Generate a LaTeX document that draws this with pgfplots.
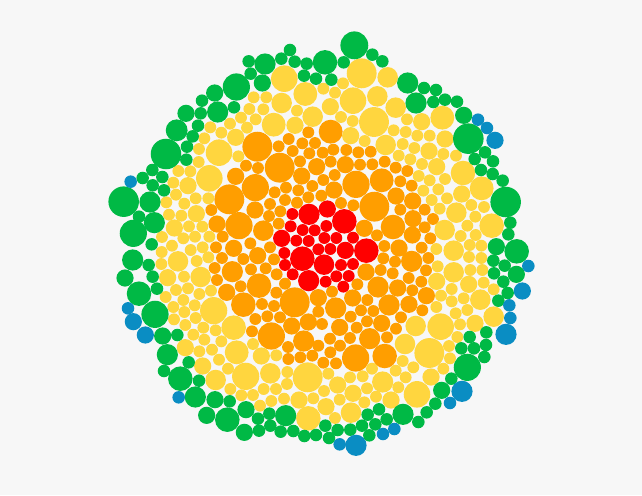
\documentclass[border=0pt]{standalone}
\usepackage{pgfplots}
\pgfplotsset{compat=1.18}
\definecolor{bg}{HTML}{F7F7F7}
\definecolor{cred}{HTML}{FF0000}
\definecolor{corange}{HTML}{FF9E00}
\definecolor{cyellow}{HTML}{FFD63F}
\definecolor{cgreen}{HTML}{00B945}
\definecolor{cblue}{HTML}{0A8DC3}
\pgfplotsset{bub/.style={scatter,only marks,mark=*,
  scatter/use mapped color={draw opacity=0,fill=#1,line width=0pt},
  visualization depends on={(\thisrow{r}+0.8)/3 \as \rad},
  scatter/@pre marker code/.append style={/tikz/mark size=\rad}}}
\begin{document}
\begin{tikzpicture}
\begin{axis}[width=642pt,height=495pt,scale only axis,
  xmin=0,xmax=1926,ymin=0,ymax=1485,y dir=reverse,
  ticks=none,axis line style={draw=none},
  axis background/.style={fill=bg}]
\addplot[bub=cred] table {
x y r
927 643 31
982 627 25
1033 664 36
877 642 17
872 679 17
908 690 17
944 691 17
979 678 17
845 715 25
889 722 17
926 723 17
973 714 17
1009 714 17
1059 713 17
853 759 17
907 776 36
955 748 17
991 747 17
1036 751 25
1099 752 36
855 795 17
972 794 30
1023 795 17
1059 792 17
878 823 17
926 842 31
977 845 17
1009 829 17
1046 828 17
1030 860 17
};
\addplot[bub=corange] table {
x y r
772 440 44
836 439 17
866 417 17
925 397 17
907 430 17
878 453 17
945 429 17
928 460 17
738 497 17
774 504 17
839 503 44
900 484 17
950 500 25
707 529 25
905 528 25
766 563 40
858 563 17
937 558 17
895 571 17
688 598 44
824 577 17
855 600 17
925 592 17
810 612 17
891 608 17
765 630 25
634 630 17
841 634 17
807 648 17
651 672 25
717 677 40
836 671 17
790 692 30
668 710 17
992 395 35
1000 449 17
968 458 17
1039 450 17
1075 457 17
1112 455 17
992 485 17
1036 494 25
1080 494 17
1117 493 17
1154 485 17
1187 503 17
1222 513 17
1004 525 17
970 540 17
1068 553 40
1145 541 35
1201 544 17
1235 557 17
1002 570 25
964 587 17
1188 588 25
1023 609 17
1060 616 17
1123 620 44
1238 603 25
1274 629 17
1201 629 17
1299 657 17
1239 656 25
1093 685 25
1179 681 36
1274 682 17
1131 706 17
1237 705 25
1291 715 17
648 742 17
701 745 25
751 730 17
810 742 17
666 774 17
773 767 25
730 777 17
822 778 17
644 804 17
697 815 31
753 808 17
797 805 17
830 823 17
651 840 17
777 857 36
855 851 17
680 877 25
722 859 17
829 878 17
730 914 36
786 912 17
822 918 17
884 907 44
955 893 25
766 957 17
802 949 17
840 952 17
875 978 25
925 966 25
756 994 17
814 1008 40
911 1023 31
864 1041 17
955 935 17
966 972 17
955 1037 17
865 1077 17
901 1072 17
937 1067 17
1153 738 17
1197 744 25
1265 743 17
1150 775 17
1235 784 31
1185 785 17
1285 774 17
1098 816 25
1142 810 17
1178 820 17
1278 811 17
1226 834 17
1264 845 17
1072 853 17
1134 861 31
1193 864 25
1237 871 17
996 875 17
1279 887 25
1058 894 25
1102 900 17
1167 915 31
1227 913 25
1007 924 31
1083 931 17
1120 933 17
1267 931 17
1052 950 17
1203 952 17
1101 964 17
1145 970 25
1019 982 25
1070 983 17
1188 986 17
1109 1016 31
990 1016 17
1050 1014 17
1161 1012 17
1020 1037 17
991 1057 17
1067 1074 40
1154 1068 36
970 1088 17
1008 1090 17
};
\addplot[bub=cyellow] table {
x y r
853 236 39
916 282 35
845 309 30
761 292 17
799 292 17
748 327 17
790 328 17
891 332 17
938 350 30
723 353 17
767 358 17
821 374 35
885 376 25
631 382 17
690 371 17
741 383 17
664 398 17
613 415 17
707 412 25
597 447 17
657 458 39
715 469 17
596 486 17
535 513 17
571 514 17
628 535 39
520 548 17
564 557 25
528 584 17
587 595 17
625 595 17
499 607 17
553 611 17
507 644 17
544 647 17
589 641 25
523 684 25
567 679 17
607 680 17
486 711 17
550 715 17
585 710 17
628 710 17
1085 220 44
1163 232 30
1029 250 17
970 266 17
1005 278 17
1059 302 39
1132 289 30
991 320 25
1187 323 30
1023 351 17
1058 363 17
1122 366 44
1221 358 17
1265 365 25
1327 353 35
1181 391 17
1217 396 17
1252 407 17
1289 407 17
1052 407 25
1094 423 17
1157 435 30
1208 432 17
1335 417 25
1243 444 17
1287 453 25
1330 462 17
1368 467 17
1196 467 17
1231 478 17
1266 492 17
1310 500 25
1389 519 36
1256 528 17
1289 541 17
1335 537 17
1445 565 35
1270 572 17
1315 568 17
1385 582 25
1295 600 17
1341 595 17
1414 615 17
1452 621 17
1319 626 17
1369 638 30
1426 650 17
1475 677 36
1334 690 30
1402 677 17
1382 708 17
1427 705 17
485 756 17
516 737 17
572 750 17
608 742 17
625 772 17
534 784 30
590 783 17
484 792 17
503 833 25
552 830 17
602 831 30
528 870 17
564 865 17
633 872 17
598 882 17
497 891 17
550 900 17
584 916 17
520 921 17
641 932 40
553 936 17
587 954 17
522 958 17
556 975 17
701 983 36
610 983 17
647 991 17
580 1004 17
613 1019 17
664 1024 17
759 1032 17
556 1043 25
636 1049 17
598 1054 17
710 1057 35
784 1068 25
829 1066 17
657 1079 17
608 1098 25
684 1106 17
737 1129 40
811 1120 30
862 1116 17
923 1132 44
647 1140 30
861 1152 17
691 1167 17
791 1167 17
828 1167 17
724 1186 17
759 1185 17
852 1196 17
897 1200 25
940 1195 17
780 1217 17
814 1203 17
925 1255 36
1309 747 17
1361 752 30
1409 735 17
1444 737 17
1407 771 17
1444 774 17
1313 799 17
1361 817 30
1411 810 17
1447 810 17
1310 844 25
1406 853 25
1451 848 17
1355 867 17
1323 887 17
1391 895 17
1481 868 17
1441 899 30
1355 904 17
1309 921 17
1367 940 17
1402 930 17
1481 950 30
1247 978 30
1322 980 39
1380 973 17
1425 970 25
1372 1011 17
1215 1032 30
1288 1059 44
1347 1038 17
1350 1075 17
1208 1083 17
1240 1102 17
1116 1106 17
1330 1106 17
1187 1112 17
985 1121 17
1050 1132 17
1088 1129 17
1217 1132 17
1293 1131 25
1148 1146 31
1013 1155 25
1195 1162 17
1101 1165 17
972 1173 17
1059 1180 25
1251 1183 39
1128 1190 17
1019 1199 17
1173 1200 25
1093 1207 17
978 1220 25
1053 1238 30
1005 1254 17
};
\addplot[bub=cgreen] table {
x y r
870 150 18
844 176 18
884 185 18
920 191 18
746 184 18
795 192 31
752 221 18
787 249 25
912 227 18
948 236 18
709 261 40
644 279 25
606 302 18
653 336 31
702 322 18
602 340 18
558 340 25
594 377 18
530 391 32
578 409 18
561 440 18
498 462 45
559 479 18
457 510 18
428 534 18
487 531 18
458 556 18
492 571 18
371 605 45
450 606 31
417 650 18
463 668 31
400 700 40
1063 136 41
1117 164 18
1147 184 18
1031 187 18
975 187 36
994 239 18
1223 249 31
1272 264 18
1308 270 18
1248 309 31
1300 306 18
1335 299 18
1371 305 18
1391 346 25
1405 416 45
1424 477 18
1455 457 18
1479 484 18
1443 510 18
1478 522 18
1508 542 18
1517 606 45
1531 668 18
1525 703 18
455 733 18
398 780 31
446 795 18
375 834 25
458 830 18
471 866 18
417 881 36
465 943 40
488 1008 25
532 1005 18
502 1064 31
566 1087 18
492 1113 18
541 1136 36
597 1142 18
586 1191 31
645 1199 25
689 1204 18
738 1229 25
620 1246 25
682 1259 36
774 1256 18
808 1241 18
857 1247 31
811 1277 18
733 1297 25
777 1292 18
842 1295 18
880 1293 18
913 1308 18
948 1305 18
1489 740 25
1550 754 36
1480 782 18
1514 797 18
1482 820 18
1549 823 25
1510 845 18
1523 879 18
1495 902 18
1459 997 18
1409 1011 18
1458 1035 18
1422 1045 18
1384 1045 18
1453 1071 18
1402 1102 40
1354 1136 18
1325 1171 25
1306 1211 18
1280 1237 18
1209 1243 31
1137 1228 18
1103 1244 18
1160 1258 18
1255 1266 18
1086 1277 18
1126 1273 18
976 1277 18
1013 1290 18
1051 1289 18
1108 1306 18
987 1314 18
};
\addplot[bub=cblue] table {
x y r
392 545 18
1434 359 18
1461 384 18
1485 421 25
384 925 18
400 965 25
436 1005 25
536 1192 18
1585 798 18
1567 873 25
1528 916 18
1531 954 18
1518 1003 31
1386 1174 31
1350 1209 18
1183 1287 18
1149 1302 18
1019 1333 18
1068 1336 31
};
\end{axis}
\end{tikzpicture}
\end{document}
